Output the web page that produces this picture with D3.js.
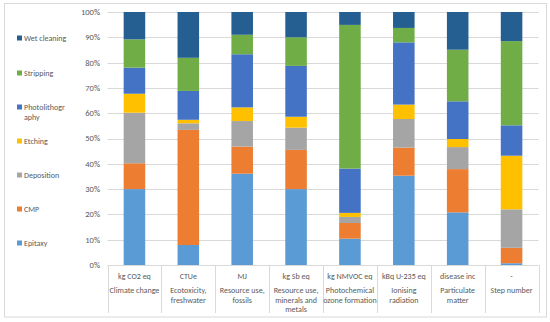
<!DOCTYPE html>
<html>
<head>
<meta charset="utf-8">
<script src="https://cdn.jsdelivr.net/npm/d3@7"></script>
<style>
  body { margin: 0; background: #fff; }
  text { font-family: Calibri, Carlito, "Liberation Sans", sans-serif; fill: #595959; }
</style>
</head>
<body>
<svg id="chart" width="550" height="322"></svg>
<script>
// Data (percent shares per impact category)
var units = ['kg CO2 eq', 'CTUe', 'MJ', 'kg Sb eq', 'kg NMVOC eq', 'kBq U-235 eq', 'disease inc', '-']
var names = [
  ['Climate change'],
  ['Ecotoxicity,', 'freshwater'],
  ['Resource use,', 'fossils'],
  ['Resource use,', 'minerals and', 'metals'],
  ['Photochemical', 'ozone formation'],
  ['Ionising', 'radiation'],
  ['Particulate', 'matter'],
  ['Step number']
]
var steps = ['Epitaxy', 'CMP', 'Deposition', 'Etching', 'Photolithography', 'Stripping', 'Wet cleaning']
var epitaxy = [30, 7.9, 36.1, 30, 10.4, 35.3, 20.8, 0.7]
var cmp = [10.2, 45.5, 10.7, 15.5, 6.2, 11.1, 17.1, 6.1]
var deposition = [20, 2.6, 10.1, 8.8, 2.4, 11.3, 8.7, 15.2]
var etching = [7.5, 1.4, 5.4, 4.3, 1.6, 5.7, 3.2, 21.2]
var photolithography = [10.3, 11.4, 21, 20.1, 17.5, 24.6, 14.9, 12]
var stripping = [11.2, 13.1, 7.7, 11.3, 56.8, 5.7, 20.4, 33.3]
var wetCleaning = [10.8, 18.1, 9, 10, 5.1, 6.3, 14.9, 11.5]
var yTicks = [0, 10, 20, 30, 40, 50, 60, 70, 80, 90, 100]

var colors = ['#5B9BD5', '#ED7D31', '#A5A5A5', '#FFC000', '#4472C4', '#70AD47', '#255E91']
var legendLabels = [['Epitaxy'], ['CMP'], ['Deposition'], ['Etching'], ['Photolithogr', 'aphy'], ['Stripping'], ['Wet cleaning']]

var series = [epitaxy, cmp, deposition, etching, photolithography, stripping, wetCleaning]
var rows = units.map(function(u, i) {
  var r = { unit: u }
  steps.forEach(function(s, j) { r[s] = series[j][i] })
  return r
})

var svg = d3.select('#chart')

// outer border
svg.append('rect')
  .attr('x', 4.5).attr('y', 3.5).attr('width', 542).attr('height', 313.5)
  .attr('fill', 'none').attr('stroke', '#d9d9d9')

var x = d3.scaleBand().domain(units).range([107.5, 538.5]).padding(0)
var y = d3.scaleLinear().domain([0, 100]).range([265, 12])
var barW = x.bandwidth() * 0.4

// gridlines
svg.append('g').selectAll('line')
  .data(yTicks.filter(function(t) { return t > 0 }))
  .enter().append('line')
  .attr('x1', 107.5).attr('x2', 538.5)
  .attr('y1', function(d) { return Math.round(y(d)) + 0.5 })
  .attr('y2', function(d) { return Math.round(y(d)) + 0.5 })
  .attr('stroke', '#d9d9d9').attr('stroke-width', 1)

// y labels
svg.append('g').selectAll('text')
  .data(yTicks).enter().append('text')
  .attr('x', 100).attr('y', function(d) { return y(d) })
  .attr('dy', '0.35em').attr('text-anchor', 'end')
  .attr('font-size', '8.5px')
  .text(function(d) { return d + '%' })

// stacked bars
var stack = d3.stack().keys(steps)(rows)
svg.append('g').selectAll('g')
  .data(stack).enter().append('g')
  .attr('fill', function(d, i) { return colors[i] })
  .selectAll('rect')
  .data(function(d) { return d }).enter().append('rect')
  .attr('x', function(d) { return x(d.data.unit) + (x.bandwidth() - barW) / 2 })
  .attr('width', barW)
  .attr('y', function(d) { return y(Math.min(d[1], 100)) })
  .attr('height', function(d) { return y(d[0]) - y(Math.min(d[1], 100)) })

// x axis line and category separators
svg.append('line')
  .attr('x1', 107.5).attr('x2', 538.5).attr('y1', 265.5).attr('y2', 265.5)
  .attr('stroke', '#d9d9d9')
var bounds = units.map(function(u) { return x(u) }).concat([x.range()[1]])
svg.append('g').selectAll('line')
  .data(bounds).enter().append('line')
  .attr('x1', function(d) { return Math.round(d) + 0.5 })
  .attr('x2', function(d) { return Math.round(d) + 0.5 })
  .attr('y1', 265).attr('y2', 313)
  .attr('stroke', '#d9d9d9')

// category labels
var cat = svg.append('g').selectAll('g')
  .data(units).enter().append('g')
  .attr('transform', function(d) { return 'translate(' + (x(d) + x.bandwidth() / 2) + ',0)' })
cat.append('text')
  .attr('y', 276).attr('dy', '0.35em').attr('text-anchor', 'middle')
  .attr('font-size', '8px')
  .text(function(d) { return d })
cat.each(function(d, i) {
  d3.select(this).selectAll('text.name')
    .data(names[i]).enter().append('text')
    .attr('class', 'name')
    .attr('y', function(t, k) { return 290 + k * 9.7 })
    .attr('dy', '0.35em').attr('text-anchor', 'middle')
    .attr('font-size', '8px')
    .text(function(t) { return t })
})

// legend (top to bottom: reversed series order)
var legendY = [243, 209, 175, 141, 107, 73, 38]
var leg = svg.append('g').selectAll('g')
  .data(steps).enter().append('g')
  .attr('transform', function(d, i) { return 'translate(17,' + legendY[i] + ')' })
leg.append('rect')
  .attr('x', 0).attr('y', -2.5).attr('width', 5).attr('height', 5)
  .attr('fill', function(d, i) { return colors[i] })
leg.each(function(d, i) {
  d3.select(this).selectAll('text')
    .data(legendLabels[i]).enter().append('text')
    .attr('x', 7).attr('y', function(t, k) { return k * 10 })
    .attr('dy', '0.35em').attr('font-size', '8px')
    .text(function(t) { return t })
})
</script>
</body>
</html>
